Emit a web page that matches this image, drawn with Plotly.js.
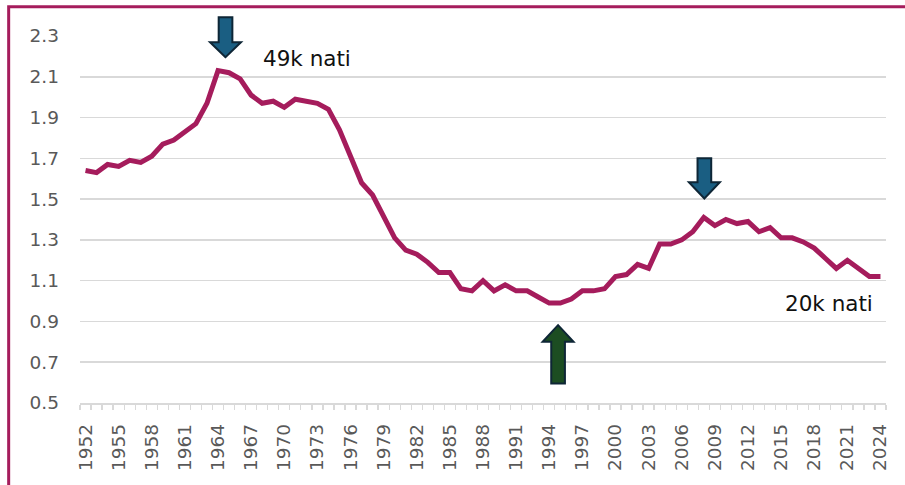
<!DOCTYPE html>
<html>
<head>
<meta charset="utf-8">
<script src="https://cdn.plot.ly/plotly-3.0.1.min.js"></script>
<style>
  html, body { margin: 0; padding: 0; background: #ffffff; }
  #chart { width: 905px; height: 485px; }
</style>
</head>
<body>
<div id="chart"></div>
<script>
// ---- Data ----
const years = [
  1952,1953,1954,1955,1956,1957,1958,1959,1960,1961,1962,1963,1964,1965,1966,1967,1968,1969,
  1970,1971,1972,1973,1974,1975,1976,1977,1978,1979,1980,1981,1982,1983,1984,1985,1986,1987,
  1988,1989,1990,1991,1992,1993,1994,1995,1996,1997,1998,1999,2000,2001,2002,2003,2004,2005,
  2006,2007,2008,2009,2010,2011,2012,2013,2014,2015,2016,2017,2018,2019,2020,2021,2022,2023,2024
];
const fertility = [
  1.64,1.63,1.67,1.66,1.69,1.68,1.71,1.77,1.79,1.83,1.87,1.97,2.13,2.12,2.09,2.01,1.97,1.98,
  1.95,1.99,1.98,1.97,1.94,1.84,1.71,1.58,1.52,1.41,1.31,1.25,1.23,1.19,1.14,1.14,1.06,1.05,
  1.10,1.05,1.08,1.05,1.05,1.02,0.99,0.99,1.01,1.05,1.05,1.06,1.12,1.13,1.18,1.16,1.28,1.28,
  1.30,1.34,1.41,1.37,1.40,1.38,1.39,1.34,1.36,1.31,1.31,1.29,1.26,1.21,1.16,1.20,1.16,1.12,1.12
];
const xTickYears = [1952,1955,1958,1961,1964,1967,1970,1973,1976,1979,1982,1985,1988,1991,1994,1997,2000,2003,2006,2009,2012,2015,2018,2021,2024];
const xTickLabels = xTickYears.map(String);
const yTickValues = [0.5,0.7,0.9,1.1,1.3,1.5,1.7,1.9,2.1,2.3];
const yTickLabels = yTickValues.map(v => v.toFixed(1));

// Callout labels (position in data units)
const labelTexts = ['49k nati', '20k nati'];
const labelYears = [1972.1, 2019.3];
const labelValues = [2.19, 0.99];

// Block arrows: centre year, tip value, head-base value, tail value
const arrowYears = [1964.68, 2008.05, 1994.8];
const arrowTips = [2.196, 1.503, 0.882];
const arrowBases = [2.269, 1.583, 0.80];
const arrowTails = [2.392, 1.70, 0.596];
const arrowFills = ['#1A5E82', '#1A5E82', '#1C4D22'];

// ---- Styling ----
const lineColor = '#A51C5C';
const gridColor = '#D9D9D9';
const tickColor = '#595959';
const fontFam = 'DejaVu Sans, Liberation Sans, sans-serif';
const yMin = 0.5, yMax = 2.3;
const toPaper = v => (v - yMin) / (yMax - yMin);

function arrowPath(xc, tip, base, tail) {
  const hs = 0.62, hh = 1.4;
  const t = toPaper(tip), b = toPaper(base), e = toPaper(tail);
  return 'M ' + xc + ',' + t +
    ' L ' + (xc - hh) + ',' + b +
    ' L ' + (xc - hs) + ',' + b +
    ' L ' + (xc - hs) + ',' + e +
    ' L ' + (xc + hs) + ',' + e +
    ' L ' + (xc + hs) + ',' + b +
    ' L ' + (xc + hh) + ',' + b + ' Z';
}

const shapes = arrowYears.map((x, i) => ({
  type: 'path', xref: 'x', yref: 'paper',
  path: arrowPath(x, arrowTips[i], arrowBases[i], arrowTails[i]),
  fillcolor: arrowFills[i],
  line: { color: '#0E2636', width: 2 },
  layer: 'above'
}));
// outer frame (left and top edges visible)
shapes.push({
  type: 'rect', xref: 'paper', yref: 'paper',
  x0: -0.0885, x1: 1.2, y0: -0.5, y1: 1.080,
  line: { color: lineColor, width: 3 }, fillcolor: 'rgba(0,0,0,0)', layer: 'above'
});

const annotations = labelTexts.map((t, i) => ({
  text: t, x: labelYears[i], y: labelValues[i], xref: 'x', yref: 'y',
  showarrow: false, xanchor: 'center', yanchor: 'middle',
  font: { family: fontFam, size: 21.5, color: '#111111' }
}));

const trace = {
  x: years, y: fertility, type: 'scatter', mode: 'lines',
  line: { color: lineColor, width: 5 },
  hoverinfo: 'x+y'
};

const layout = {
  width: 905, height: 485,
  margin: { l: 80, r: 19, t: 36, b: 82, pad: 0 },
  paper_bgcolor: '#ffffff', plot_bgcolor: '#ffffff',
  showlegend: false,
  font: { family: fontFam, color: tickColor },
  xaxis: {
    type: 'linear', range: [1951.5, 2024.5], autorange: false,
    tickmode: 'array', tickvals: xTickYears, ticktext: xTickLabels,
    tickangle: -90, ticks: '', ticklabelstandoff: 12,
    tickfont: { family: fontFam, size: 18.5, color: tickColor },
    showgrid: false, zeroline: false,
    showline: true, linecolor: gridColor, linewidth: 1.5,
    minor: { tickmode: 'linear', tick0: 1951.5, dtick: 1, ticks: 'outside', ticklen: 5, tickwidth: 1.3, tickcolor: gridColor, showgrid: false },
    automargin: false, fixedrange: true
  },
  yaxis: {
    range: [yMin, yMax], autorange: false,
    tickmode: 'array', tickvals: yTickValues, ticktext: yTickLabels,
    ticks: '', ticklabelstandoff: 20,
    tickfont: { family: fontFam, size: 18.5, color: tickColor },
    showgrid: true, gridcolor: gridColor, gridwidth: 1.5,
    zeroline: false, showline: false,
    automargin: false, fixedrange: true
  },
  shapes: shapes,
  annotations: annotations
};

Plotly.newPlot('chart', [trace], layout, { displayModeBar: false, staticPlot: true });
</script>
</body>
</html>
